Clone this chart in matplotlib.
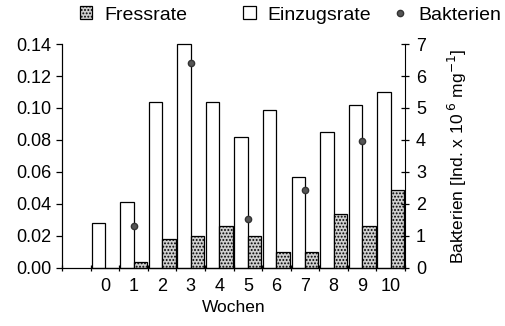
import matplotlib
matplotlib.use('Agg')
import matplotlib.pyplot as plt
import numpy as np

plt.rcParams['font.family'] = ['Liberation Sans', 'DejaVu Sans']
plt.rcParams['hatch.linewidth'] = 0.9
plt.rcParams['hatch.color'] = '#333333'

# data
wochen = [0, 1, 2, 3, 4, 5, 6, 7, 8, 9, 10]
einzugsrate = [0.028, 0.041, 0.104, 0.140, 0.104, 0.082, 0.099, 0.057, 0.085, 0.102, 0.110]
fressrate = [0.0, 0.004, 0.018, 0.020, 0.026, 0.020, 0.010, 0.010, 0.034, 0.026, 0.049]
bakt_wochen = [1, 3, 5, 7, 9]
bakterien = [1.32, 6.4, 1.53, 2.44, 3.97]

fig = plt.figure(figsize=(5.05, 3.26), dpi=100)
ax = fig.add_axes([0.123, 0.178, 0.679, 0.687])
ax2 = ax.twinx()

x = np.array(wochen)
w = 0.47
b1 = ax.bar(x - w/2, einzugsrate, w, color='white', edgecolor='black', linewidth=0.9,
            label='Einzugsrate', clip_on=False)
b2 = ax.bar(x + w/2, fressrate, w, color='#cfcfcf', edgecolor='black', hatch='.....',
            linewidth=0.9, label='Fressrate', clip_on=False)
p, = ax2.plot(bakt_wochen, bakterien, 'o', color='#555555', markersize=4.5,
              markeredgecolor='#333333', label='Bakterien')

ax.set_xlim(-1.5, 10.5)
ax.set_ylim(0, 0.14)
ax2.set_ylim(0, 7)

ax.set_yticks([0.0, 0.02, 0.04, 0.06, 0.08, 0.10, 0.12, 0.14])
ax.set_yticklabels(['0.00', '0.02', '0.04', '0.06', '0.08', '0.10', '0.12', '0.14'])
ax2.set_yticks(range(8))

ax.set_xticks(wochen)
ax.set_xticks(np.arange(-1.5, 11, 1), minor=True)
ax.tick_params(axis='x', which='major', length=0, labelsize=13, pad=7)
ax.tick_params(axis='x', which='minor', length=5, direction='inout', width=0.9)
ax.tick_params(axis='y', length=4, labelsize=13, width=0.9)
ax2.tick_params(axis='y', length=6, direction='inout', labelsize=13, width=0.9, pad=5)

for a in (ax, ax2):
    a.spines['top'].set_visible(False)
ax.spines['right'].set_visible(False)

ax.set_xlabel('Wochen', fontsize=12.5, labelpad=4)
ax2.set_ylabel('Bakterien [Ind. x 10$^{\\ 6}$ mg$^{-1}$]', fontsize=12.5, labelpad=14)

# one legend per entry, placed like the original
for h, lab, xpos in [(b2, 'Fressrate', 0.158), (b1, 'Einzugsrate', 0.481), (p, 'Bakterien', 0.780)]:
    fig.legend([h], [lab], loc='center left', bbox_to_anchor=(xpos, 0.954), frameon=False,
               fontsize=14, handlelength=0.65, handleheight=0.65, handletextpad=0.6,
               borderpad=0, borderaxespad=0)

fig.savefig('out.png', dpi=100)
